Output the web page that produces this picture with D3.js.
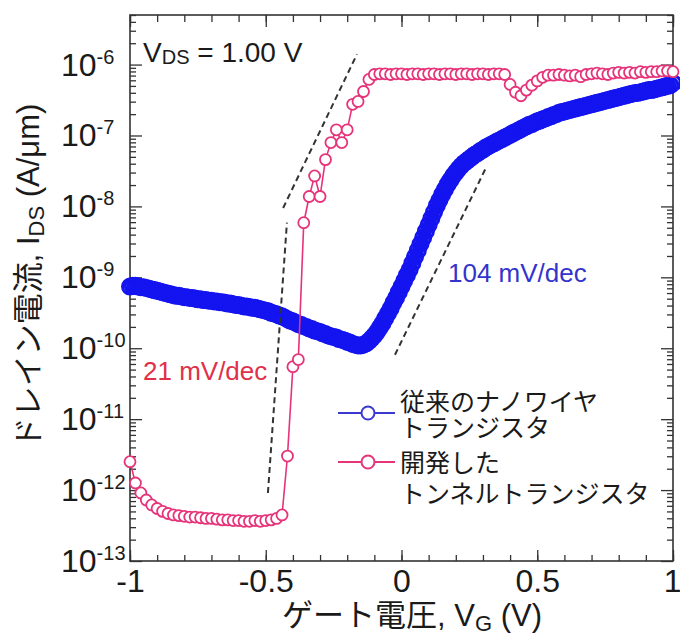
<!DOCTYPE html>
<html>
<head>
<meta charset="utf-8">
<script src="https://cdn.jsdelivr.net/npm/d3@7"></script>
<style>
  body { margin: 0; background: #fff; }
  text { font-family: "Liberation Sans", Arial, "Noto Sans CJK JP", sans-serif; fill: #1a1a1a; }
  .axis line { stroke: #333; stroke-width: 1.3; }
</style>
</head>
<body>
<svg id="chart"></svg>
<script>
// gate sweep: -1 V to 1 V
const sweepStart = -1, sweepEnd = 1;
const blueStep = 0.01, pinkStep = 0.02;

// conventional nanowire transistor, log10(I_DS [A/um]) every 10 mV
const blueLogI = [
  -9.13,-9.12,-9.12,-9.13,-9.14,-9.14,-9.15,-9.16,-9.17,-9.18,
  -9.19,-9.20,-9.21,-9.22,-9.23,-9.24,-9.25,-9.26,-9.26,-9.27,
  -9.28,-9.28,-9.29,-9.29,-9.30,-9.31,-9.31,-9.32,-9.32,-9.33,
  -9.33,-9.34,-9.34,-9.35,-9.35,-9.36,-9.37,-9.37,-9.38,-9.39,
  -9.39,-9.40,-9.41,-9.41,-9.42,-9.43,-9.43,-9.44,-9.45,-9.46,
  -9.47,-9.48,-9.50,-9.51,-9.52,-9.54,-9.55,-9.57,-9.59,-9.61,
  -9.62,-9.64,-9.66,-9.67,-9.69,-9.70,-9.72,-9.73,-9.75,-9.76,
  -9.77,-9.79,-9.80,-9.82,-9.83,-9.84,-9.85,-9.87,-9.88,-9.89,
  -9.91,-9.92,-9.94,-9.95,-9.96,-9.96,-9.95,-9.93,-9.90,-9.86,
  -9.82,-9.77,-9.71,-9.65,-9.58,-9.51,-9.44,-9.36,-9.29,-9.21,
  -9.13,-9.05,-8.97,-8.89,-8.80,-8.71,-8.62,-8.53,-8.44,-8.35,
  -8.26,-8.17,-8.08,-7.99,-7.91,-7.83,-7.76,-7.69,-7.63,-7.57,
  -7.52,-7.47,-7.43,-7.39,-7.36,-7.33,-7.30,-7.27,-7.25,-7.22,
  -7.20,-7.17,-7.15,-7.13,-7.11,-7.09,-7.07,-7.05,-7.03,-7.01,
  -6.99,-6.97,-6.95,-6.93,-6.91,-6.89,-6.87,-6.85,-6.84,-6.82,
  -6.80,-6.79,-6.77,-6.76,-6.74,-6.73,-6.71,-6.70,-6.68,-6.67,
  -6.66,-6.65,-6.64,-6.63,-6.62,-6.61,-6.60,-6.59,-6.58,-6.57,
  -6.56,-6.55,-6.54,-6.53,-6.52,-6.51,-6.50,-6.49,-6.48,-6.47,
  -6.46,-6.45,-6.44,-6.43,-6.42,-6.41,-6.40,-6.40,-6.39,-6.38,
  -6.37,-6.36,-6.36,-6.35,-6.34,-6.33,-6.32,-6.31,-6.30,-6.29,
  -6.26
];

// tunnel transistor, log10(I_DS [A/um]) every 20 mV
const pinkLogI = [
  -11.60,-11.90,-12.04,-12.14,-12.21,-12.26,-12.30,-12.33,-12.35,-12.36,
  -12.37,-12.38,-12.38,-12.39,-12.40,-12.40,-12.41,-12.42,-12.42,-12.43,
  -12.43,-12.44,-12.44,-12.43,-12.44,-12.43,-12.42,-12.40,-12.35,-11.52,
  -10.26,-10.16,-8.23,-7.86,-7.57,-7.86,-7.34,-7.10,-6.92,-7.10,
  -6.92,-6.56,-6.52,-6.38,-6.21,-6.14,-6.13,-6.13,-6.14,-6.13,
  -6.13,-6.14,-6.13,-6.13,-6.14,-6.13,-6.13,-6.14,-6.13,-6.13,
  -6.14,-6.13,-6.13,-6.14,-6.13,-6.13,-6.14,-6.13,-6.13,-6.14,
  -6.28,-6.39,-6.44,-6.36,-6.29,-6.23,-6.18,-6.15,-6.15,-6.14,
  -6.15,-6.16,-6.15,-6.17,-6.14,-6.13,-6.12,-6.13,-6.14,-6.12,
  -6.11,-6.12,-6.11,-6.12,-6.10,-6.11,-6.10,-6.10,-6.09,-6.09,
  -6.10
];

// dashed slope guides (V, A/um)
const guideVg = [[-0.492, -0.422], [-0.436, -0.164], [-0.024, 0.311]];
const guideI = [[9.1e-13, 5.9e-9], [9.5e-9, 1.4e-6], [8.1e-11, 3.5e-8]];

const xTicks = [-1, -0.5, 0, 0.5, 1];
const yDecades = [-13, -12, -11, -10, -9, -8, -7, -6];
const legendLabels = [
  ["従来のナノワイヤ", "トランジスタ"],
  ["開発した", "トンネルトランジスタ"]
];

const blueColor = "#1414f0";
const pinkColor = "#e6337a";

const W = 680, H = 638;
const margin = { left: 130, right: 673, top: 15, bottom: 561 };

const svg = d3.select("#chart").attr("width", W).attr("height", H);

const x = d3.scaleLinear().domain([-1, 1]).range([margin.left, margin.right]);
const y = d3.scaleLog().domain([1e-13, 5e-6]).range([margin.bottom, margin.top]);

const blue = blueLogI.map((v, i) => ({ v: sweepStart + i * blueStep, i: Math.pow(10, v) }));
const pink = pinkLogI.map((v, i) => ({ v: sweepStart + i * pinkStep, i: Math.pow(10, v) }));

// ticks
const xMinor = d3.range(-10, 11).map((k) => k / 10);
const yMinor = [];
yDecades.forEach((n) => {
  for (let k = 2; k <= 9; k++) {
    const t = k * Math.pow(10, n);
    if (t <= 5e-6) yMinor.push(t);
  }
});
const yMajor = yDecades.map((n) => Math.pow(10, n));

function addAxis(axis, tr) {
  const g = svg.append("g").attr("class", "axis").attr("transform", tr).call(axis);
  g.select(".domain").remove();
  return g;
}

addAxis(d3.axisBottom(x).tickValues(xMinor).tickSize(-6).tickFormat(""), `translate(0,${margin.bottom})`);
addAxis(d3.axisTop(x).tickValues(xMinor).tickSize(-7).tickFormat(""), `translate(0,${margin.top})`);
addAxis(d3.axisTop(x).tickValues(xTicks).tickSize(-12).tickFormat(""), `translate(0,${margin.top})`);
const xAx = addAxis(
  d3.axisBottom(x).tickValues(xTicks).tickSize(-11).tickPadding(8).tickFormat((d) => String(d)),
  `translate(0,${margin.bottom})`
);
xAx.selectAll("text").style("font-size", "32px").attr("fill", "#1a1a1a");
// last label sits at the window edge; keep it inside
xAx.selectAll("text").filter((d) => d === 1).attr("text-anchor", "end").attr("x", 8);

addAxis(d3.axisLeft(y).tickValues(yMinor).tickSize(-6).tickFormat(""), `translate(${margin.left},0)`);
addAxis(d3.axisLeft(y).tickValues(yMajor).tickSize(-12).tickFormat(""), `translate(${margin.left},0)`);
addAxis(d3.axisRight(y).tickValues(yMinor).tickSize(-6).tickFormat(""), `translate(${margin.right},0)`);
addAxis(d3.axisRight(y).tickValues(yMajor).tickSize(-12).tickFormat(""), `translate(${margin.right},0)`);

// frame
svg.append("rect")
  .attr("x", margin.left).attr("y", margin.top)
  .attr("width", margin.right - margin.left).attr("height", margin.bottom - margin.top)
  .attr("fill", "none").attr("stroke", "#333").attr("stroke-width", 1.6);

// y labels 10^n
yDecades.forEach((n) => {
  const t = svg.append("text")
    .attr("x", 61)
    .attr("y", y(Math.pow(10, n)) + 11)
    .style("font-size", "32px");
  t.append("tspan").text("10");
  t.append("tspan").attr("dy", -12).style("font-size", "20px").text(String(n));
});

// blue: conventional nanowire (dense markers make a solid band)
svg.append("path")
  .datum(blue)
  .attr("fill", "none")
  .attr("stroke", blueColor)
  .attr("stroke-width", 11)
  .attr("stroke-linejoin", "round")
  .attr("d", d3.line().x((d) => x(d.v)).y((d) => y(d.i)));

svg.append("g")
  .selectAll("circle")
  .data(blue)
  .enter()
  .append("circle")
  .attr("cx", (d) => x(d.v))
  .attr("cy", (d) => y(d.i))
  .attr("r", 7.5)
  .attr("fill", "none")
  .attr("stroke", blueColor)
  .attr("stroke-width", 3);

// pink: tunnel transistor
svg.append("path")
  .datum(pink)
  .attr("fill", "none")
  .attr("stroke", pinkColor)
  .attr("stroke-width", 1.6)
  .attr("d", d3.line().x((d) => x(d.v)).y((d) => y(d.i)));

svg.append("g")
  .selectAll("circle")
  .data(pink)
  .enter()
  .append("circle")
  .attr("cx", (d) => x(d.v))
  .attr("cy", (d) => y(d.i))
  .attr("r", 5.5)
  .attr("fill", "#fff")
  .attr("stroke", pinkColor)
  .attr("stroke-width", 1.8);

// dashed guides
guideVg.forEach((vs, k) => {
  svg.append("line")
    .attr("x1", x(vs[0])).attr("y1", y(guideI[k][0]))
    .attr("x2", x(vs[1])).attr("y2", y(guideI[k][1]))
    .attr("stroke", "#333")
    .attr("stroke-width", 2)
    .attr("stroke-dasharray", "6,4");
});

// annotations
const vds = svg.append("text").attr("x", 143).attr("y", 62).style("font-size", "28px");
vds.append("tspan").text("V");
vds.append("tspan").attr("dy", 2).style("font-size", "20px").text("DS");
vds.append("tspan").attr("dy", -2).text(" = 1.00 V");

svg.append("text").attr("x", 143).attr("y", 380)
  .style("font-size", "26px").style("fill", "#e0304a").text("21 mV/dec");
svg.append("text").attr("x", 448).attr("y", 282)
  .style("font-size", "26px").style("fill", "#3434cc").text("104 mV/dec");

// legend
const legendY = [413, 462];
const legendColors = ["#3a3ad0", pinkColor];
const legendBase = [[411, 437], [472, 503]];
legendY.forEach((ly, k) => {
  svg.append("line")
    .attr("x1", 338).attr("x2", 395).attr("y1", ly).attr("y2", ly)
    .attr("stroke", legendColors[k]).attr("stroke-width", 2);
  svg.append("circle")
    .attr("cx", 368).attr("cy", ly).attr("r", 6.5)
    .attr("fill", "#fff").attr("stroke", legendColors[k]).attr("stroke-width", 2);
  legendLabels[k].forEach((s, j) => {
    svg.append("text")
      .attr("x", 400).attr("y", legendBase[k][j])
      .style("font-size", "25px").text(s);
  });
});

// axis titles
const xt = svg.append("text")
  .attr("x", 412).attr("y", 626)
  .attr("text-anchor", "middle")
  .style("font-size", "31px");
xt.append("tspan").text("ゲート電圧, V");
xt.append("tspan").attr("dy", 5).style("font-size", "22px").text("G");
xt.append("tspan").attr("dy", -5).text(" (V)");

const yt = svg.append("text")
  .attr("transform", "translate(39,276) rotate(-90)")
  .attr("text-anchor", "middle")
  .style("font-size", "31px");
yt.append("tspan").text("ドレイン電流, I");
yt.append("tspan").attr("dy", 5).style("font-size", "22px").text("DS");
yt.append("tspan").attr("dy", -5).text(" (A/μm)");
</script>
</body>
</html>
